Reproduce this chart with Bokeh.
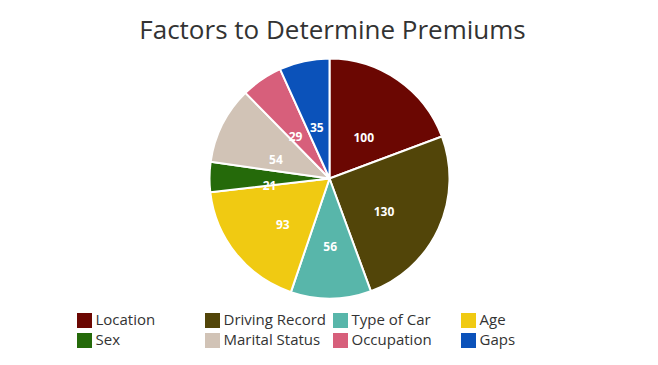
import math
from bokeh.plotting import figure
from bokeh.models import Range1d, ColumnDataSource
from bokeh.core.properties import value
from bokeh.embed import file_html
from bokeh.resources import INLINE

categories = ["Location", "Driving Record", "Type of Car", "Age",
              "Sex", "Marital Status", "Occupation", "Gaps"]
values = [100, 130, 56, 93, 21, 54, 29, 35]
colors = ["#6b0702", "#524509", "#58b6aa", "#f0ca12",
          "#256a0a", "#d1c3b6", "#d75f7b", "#0b52ba"]
title_text = "Factors to Determine Premiums"

W, H = 642, 349
FONT = "Open Sans"

def px(x):
    return x

def py(y):
    return H - y

p = figure(width=W, height=H, output_backend="svg", toolbar_location=None,
           x_range=Range1d(0, W), y_range=Range1d(0, H), min_border=0)
p.axis.visible = False
p.grid.visible = False
p.outline_line_color = None
p.background_fill_color = "white"
p.border_fill_color = "white"

cx, cy, r = px(329), py(178), 120
total = sum(values)
starts, ends, lx, ly = [], [], [], []
cum = 0
for v in values:
    a0 = math.pi / 2 - 2 * math.pi * cum / total
    a1 = math.pi / 2 - 2 * math.pi * (cum + v) / total
    mid = 2 * math.pi * (cum + v / 2) / total
    starts.append(a0)
    ends.append(a1)
    lx.append(cx + 0.5 * r * math.sin(mid))
    ly.append(cy + 0.5 * r * math.cos(mid) - 8)
    cum += v

src = ColumnDataSource(dict(start=starts, end=ends, color=colors,
                            lx=lx, ly=ly, label=[str(v) for v in values]))
p.wedge(x=cx, y=cy, radius=r, start_angle="start", end_angle="end",
        direction="clock", fill_color="color", line_color="white",
        line_width=2, source=src)
p.text(x="lx", y="ly", text="label", source=src, text_color="white",
       text_font=value(FONT), text_font_size="12px", text_font_style="bold",
       text_align="center", text_baseline="middle")

# title
p.text(x=[px(332)], y=[py(28)], text=[title_text], text_font=value(FONT),
       text_font_size="26px", text_color="#333333", text_align="center",
       text_baseline="middle")

# legend
sx, sy, tx, ty = [], [], [], []
for i in range(len(categories)):
    col, row = i % 4, i // 4
    sx.append(px(84 + 128 * col))
    sy.append(py(320 + 20 * row))
    tx.append(px(95 + 128 * col))
    ty.append(py(318 + 20 * row))
lsrc = ColumnDataSource(dict(sx=sx, sy=sy, tx=tx, ty=ty, color=colors,
                             name=categories))
p.rect(x="sx", y="sy", width=15, height=15, fill_color="color",
       line_color=None, source=lsrc)
p.text(x="tx", y="ty", text="name", source=lsrc, text_font=value(FONT),
       text_font_size="15px", text_color="#333333", text_align="left",
       text_baseline="middle")

open("out.html", "w").write(file_html(p, INLINE))
